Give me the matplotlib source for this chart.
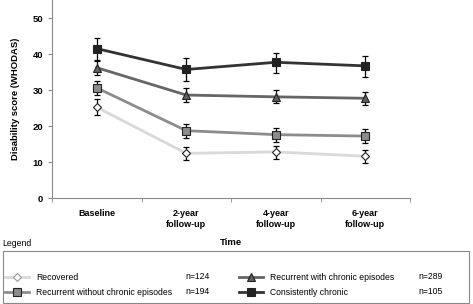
import numpy as np
import matplotlib
matplotlib.use("Agg")
import matplotlib.pyplot as plt
from matplotlib.lines import Line2D
from matplotlib.patches import Rectangle

plt.rcParams['font.family'] = ['Liberation Sans', 'DejaVu Sans']

timepoints = ["Baseline", "2-year\nfollow-up", "4-year\nfollow-up", "6-year\nfollow-up"]

groups = ["Recovered", "Recurrent without chronic episodes",
          "Recurrent with chronic episodes", "Consistently chronic"]
n_labels = ["n=124", "n=194", "n=289", "n=105"]

recovered = [25.2, 12.4, 12.8, 11.6]
recovered_lo = [23.0, 10.6, 10.8, 9.6]
recovered_hi = [27.4, 14.3, 14.5, 13.4]

rec_without = [30.6, 18.7, 17.6, 17.2]
rec_without_lo = [28.6, 16.8, 15.6, 15.2]
rec_without_hi = [32.6, 20.6, 19.5, 19.3]

rec_with = [36.2, 28.6, 28.1, 27.7]
rec_with_lo = [34.3, 26.8, 26.3, 25.8]
rec_with_hi = [38.1, 30.6, 30.0, 29.5]

chronic = [41.5, 35.7, 37.7, 36.7]
chronic_lo = [38.4, 32.6, 34.8, 33.7]
chronic_hi = [44.5, 39.0, 40.4, 39.5]

series = [
    (recovered, recovered_lo, recovered_hi, '#d9d9d9', 'D', 'white', 4.0),
    (rec_without, rec_without_lo, rec_without_hi, '#8c8c8c', 's', '#8c8c8c', 5.5),
    (rec_with, rec_with_lo, rec_with_hi, '#666666', '^', '#5f5f5f', 5.5),
    (chronic, chronic_lo, chronic_hi, '#333333', 's', '#222222', 5.5),
]

fig = plt.figure(figsize=(4.73, 3.04), dpi=100)
ax = fig.add_axes([52/473, 1 - 198/304, (410 - 52)/473, 198/304])

x = np.arange(len(timepoints))
handles = []
for vals, lo, hi, col, mk, fc, ms in series:
    vals = np.array(vals)
    err = [vals - np.array(lo), np.array(hi) - vals]
    ax.errorbar(x, vals, yerr=err, fmt='none', ecolor='black', elinewidth=0.9,
                capsize=2, capthick=0.9, zorder=2)
    ax.plot(x, vals, color=col, lw=2.0, zorder=1)
    ax.plot(x, vals, ls='none', marker=mk, ms=ms, mfc=fc, mec='#222222', mew=0.8, zorder=3)
    handles.append(Line2D([], [], color=col, lw=2.0, marker=mk, ms=ms, mfc=fc,
                          mec='#222222' if mk != 'D' else '#999999', mew=0.8))

ax.set_xlim(-0.5, 3.5)
ax.set_ylim(0, 55)
ax.set_yticks([0, 10, 20, 30, 40, 50])
ax.set_xticks(x)
ax.set_xticklabels(timepoints, fontweight='bold', fontsize=6.5)
ax.set_xticks(np.arange(-0.5, 4, 1), minor=True)
ax.tick_params(axis='x', which='major', length=0, pad=8)
ax.tick_params(axis='x', which='minor', length=3, color='#888888')
ax.tick_params(axis='y', length=3, color='#888888', labelsize=6.8)
for lab in ax.get_yticklabels():
    lab.set_fontweight('bold')
for s in ['top', 'right']:
    ax.spines[s].set_visible(False)
for s in ['left', 'bottom']:
    ax.spines[s].set_color('#888888')
ax.set_ylabel("Disability score (WHODAS)", fontweight='bold', fontsize=6.8, labelpad=9)
ax.set_xlabel("Time", fontweight='bold', fontsize=6.8, labelpad=7)

# legend area
fig.text(2/473, 1 - 244/304, "Legend", fontsize=6.2, va='center')
fig.add_artist(Rectangle((3/473, 1 - 303/304), 466/473, 52/304, transform=fig.transFigure,
                         fill=False, ec='#888888', lw=0.8))
cols = [(0, 1, 1/473, 185/473), (2, 3, 235/473, 418/473)]
for a, b, lx, nx in cols:
    fig.legend([handles[a], handles[b]], [groups[a], groups[b]], loc='upper left',
               bbox_to_anchor=(lx, 1 - 269/304), frameon=False, fontsize=6.2,
               handlelength=2.8, handletextpad=0.8, labelspacing=0.7, borderpad=0)
    fig.text(nx, 1 - 276.5/304, n_labels[a], fontsize=6.2, va='center')
    fig.text(nx, 1 - 292/304, n_labels[b], fontsize=6.2, va='center')

fig.savefig("out.png", dpi=100)
